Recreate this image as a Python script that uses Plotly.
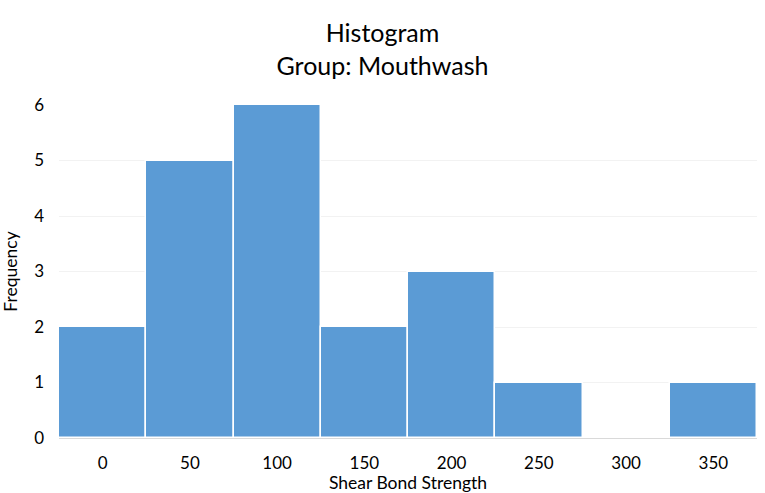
import plotly.graph_objects as go

bin_centers = [0, 50, 100, 150, 200, 250, 300, 350]
frequencies = [2, 5, 6, 2, 3, 1, 0, 1]
bin_width = 50
y_ticks = [0, 1, 2, 3, 4, 5, 6]

FONT = "Lato"

fig = go.Figure()
fig.add_trace(go.Bar(
    x=bin_centers, y=frequencies, width=[bin_width] * len(bin_centers),
    marker=dict(color="#5B9BD5", line=dict(color="white", width=1.5)),
    hoverinfo="x+y",
))
fig.update_layout(
    width=765, height=493,
    paper_bgcolor="white", plot_bgcolor="white",
    margin=dict(l=59, r=8, t=105, b=55),
    showlegend=False,
    font=dict(family=FONT, size=17, color="#000000"),
    title=dict(text="Histogram<br>Group: Mouthwash", x=0.5, xanchor="center",
               xref="container", yref="container",
               y=1 - 42 / 493, yanchor="middle",
               font=dict(family=FONT, size=25, color="#000000")),
    bargap=0,
)
fig.update_xaxes(
    range=[-25, 375], tickvals=bin_centers, ticktext=[str(v) for v in bin_centers],
    showgrid=False, zeroline=False, showline=True, linecolor="#D9D9D9", linewidth=1,
    ticks="", ticklabelstandoff=10, automargin=False,
    title=dict(text="Shear Bond Strength", standoff=2, font=dict(size=17.5)),
    tickfont=dict(size=17),
)
fig.update_yaxes(
    range=[0, 6], tickvals=y_ticks, showgrid=True, gridcolor="#F2F2F2", gridwidth=1,
    zeroline=False, showline=False, ticks="", ticklabelstandoff=14, automargin=False,
    title=dict(text="Frequency", standoff=12, font=dict(size=17.5)),
    tickfont=dict(size=17),
)
fig.write_html("out.html")
